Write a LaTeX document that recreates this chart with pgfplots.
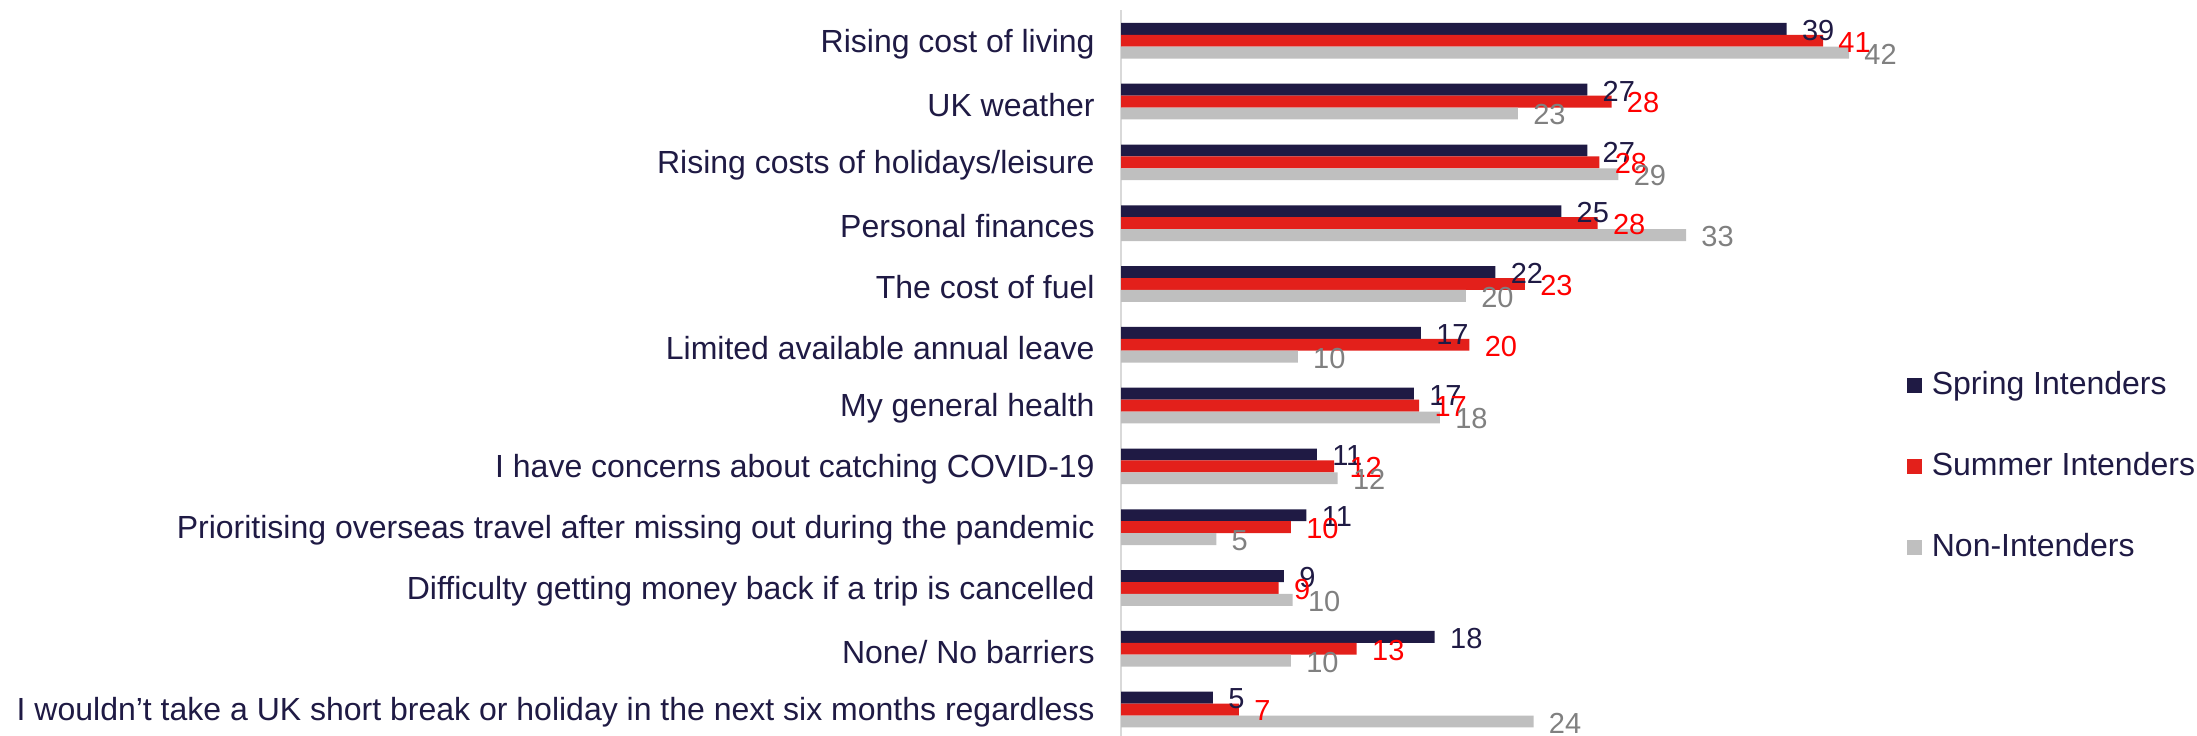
\documentclass[border=0pt]{standalone}
\usepackage{fontspec}
\setmainfont{Liberation Sans}
\usepackage{pgfplots}
\pgfplotsset{compat=1.18}
\definecolor{navy}{HTML}{1F1A44}
\definecolor{barred}{HTML}{E3201B}
\definecolor{bargrey}{HTML}{BFBFBF}
\definecolor{labred}{HTML}{FF0000}
\definecolor{labgrey}{HTML}{808080}
\definecolor{axisgrey}{HTML}{D9D9D9}
\begin{document}
\begin{tikzpicture}
\begin{axis}[
  at={(560.5bp,-2bp)}, anchor=south west,
  scale only axis, width=390bp, height=364.8bp,
  xbar, bar width=5.95bp,
  xmin=0, xmax=45, ymin=-0.5, ymax=11.5,
  axis lines*=left,
  x axis line style={draw=none},
  y axis line style={draw=axisgrey, line width=1bp, -},
  xtick=\empty, ytick={0,1,2,3,4,5,6,7,8,9,10,11}, major tick length=0pt,
  yticklabels={I wouldn’t take a UK short break or holiday in the next six months regardless,
    None/ No barriers,
    Difficulty getting money back if a trip is cancelled,
    Prioritising overseas travel after missing out during the pandemic,
    I have concerns about catching COVID-19,
    My general health,
    Limited available annual leave,
    The cost of fuel,
    Personal finances,
    Rising costs of holidays/leisure,
    UK weather,
    Rising cost of living},
  yticklabel style={font=\fontsize{16bp}{19bp}\selectfont, text=navy, inner sep=0pt, xshift=-13bp, yshift=-1.5bp},
  point meta=explicit symbolic,
  nodes near coords,
  nodes near coords style={anchor=west, inner sep=0pt, xshift=7.5bp, yshift=-0.7bp, font=\fontsize{14.5bp}{17bp}\selectfont},
  legend style={at={(1.007,0.507)}, anchor=north west, draw=none, fill=none, inner sep=0pt,
    font=\fontsize{16bp}{19bp}\selectfont, text=navy, row sep=25bp, column sep=5bp,
    nodes={inner sep=0pt, text height=12bp, text depth=3.5bp}},
  legend cell align=left,
  legend image code/.code={\path[#1] (0bp,-3.75bp) rectangle (7.5bp,3.75bp);},
  clip=false,
]
\addplot[fill=navy, draw=none, bar shift=5.95bp, every node near coord/.append style={text=navy}] coordinates {
  (38.4,11) [39] (26.9,10) [27] (26.9,9) [27] (25.4,8) [25] (21.6,7) [22] (17.3,6) [17]
  (16.9,5) [17] (11.3,4) [11] (10.7,3) [11] (9.4,2) [9] (18.1,1) [18] (5.3,0) [5]};
\addlegendentry{Spring Intenders}
\addplot[fill=barred, draw=none, bar shift=0bp, every node near coord/.append style={text=labred}] coordinates {
  (40.5,11) [41] (28.3,10) [28] (27.6,9) [28] (27.5,8) [28] (23.3,7) [23] (20.1,6) [20]
  (17.2,5) [17] (12.3,4) [12] (9.8,3) [10] (9.1,2) [9] (13.6,1) [13] (6.8,0) [7]};
\addlegendentry{Summer Intenders}
\addplot[fill=bargrey, draw=none, bar shift=-5.95bp, every node near coord/.append style={text=labgrey}] coordinates {
  (42,11) [42] (22.9,10) [23] (28.7,9) [29] (32.6,8) [33] (19.9,7) [20] (10.2,6) [10]
  (18.4,5) [18] (12.5,4) [12] (5.5,3) [5] (9.9,2) [10] (9.8,1) [10] (23.8,0) [24]};
\addlegendentry{Non-Intenders}
\end{axis}
\pgfresetboundingbox
\useasboundingbox (0,0) rectangle (1098.5bp,368bp);
\end{tikzpicture}
\end{document}
